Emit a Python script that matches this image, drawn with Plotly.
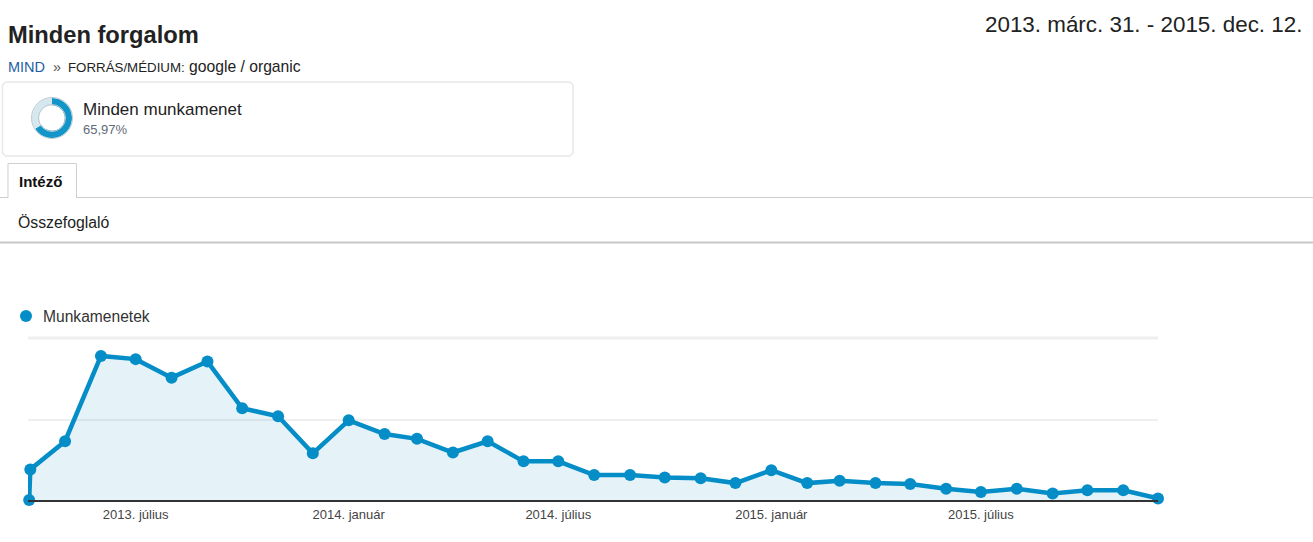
import plotly.graph_objects as go

W, H = 1313, 542
FONT = "Liberation Sans"

# Data (the reference has no y-axis labels, so the unit is relative)
dates = ["2013-03-31", "2013-04-01", "2013-05-01", "2013-06-01", "2013-07-01", "2013-08-01",
         "2013-09-01", "2013-10-01", "2013-11-01", "2013-12-01", "2014-01-01", "2014-02-01",
         "2014-03-01", "2014-04-01", "2014-05-01", "2014-06-01", "2014-07-01", "2014-08-01",
         "2014-09-01", "2014-10-01", "2014-11-01", "2014-12-01", "2015-01-01", "2015-02-01",
         "2015-03-01", "2015-04-01", "2015-05-01", "2015-06-01", "2015-07-01", "2015-08-01",
         "2015-09-01", "2015-10-01", "2015-11-01", "2015-12-01"]
sessions = [0, 38, 73, 179, 175, 152, 172, 114, 104, 58, 99, 82, 76, 59, 73, 48, 48, 31, 31, 28,
            27, 21, 37, 21, 24, 21, 20, 14, 10, 14, 8, 12, 12, 2]
tick_dates = ["2013-07-01", "2014-01-01", "2014-07-01", "2015-01-01", "2015-07-01"]
tick_labels = ["2013. július", "2014. január", "2014. július", "2015. január", "2015. július"]
grid_values = [0, 100]
donut_labels = ["Minden munkamenet", "Többi"]
donut_values = [65.97, 34.03]


def px(x):
    return x / W


def py(y):
    return 1 - y / H


fig = go.Figure()
fig.add_trace(go.Scatter(
    x=dates, y=sessions, name="Munkamenetek", mode="lines+markers",
    line=dict(color="#058dc7", width=4.5),
    marker=dict(color="#058dc7", size=12),
    fill="tozeroy", fillcolor="rgba(5,141,199,0.105)",
    cliponaxis=False, showlegend=False,
))
fig.add_trace(go.Pie(
    labels=donut_labels, values=donut_values, hole=0.64, sort=False,
    direction="clockwise", rotation=0, textinfo="none", showlegend=False,
    marker=dict(colors=["#1295c9", "#d6e8ef"], line=dict(width=0)),
    domain=dict(x=[px(32), px(72)], y=[py(138), py(98)]),
))


def text(x, y, s, size, color="#222222", anchor="left", bold=False):
    fig.add_annotation(
        x=px(x), y=py(y), xref="paper", yref="paper", text=f"<b>{s}</b>" if bold else s,
        showarrow=False, xanchor=anchor, yanchor="middle", borderpad=0,
        font=dict(family=FONT, size=size, color=color),
    )


text(7, 35, "Minden forgalom", 23.7, "#222222", bold=True)
text(1302.5, 24.5, "2013. márc. 31. - 2015. dec. 12.", 22.4, "#222222", anchor="right")
text(7, 66.5, "MIND", 14.5, "#1c5fa5")
text(52, 66.5, "»", 14.5, "#555555")
text(67, 67, "FORRÁS/MÉDIUM:", 13.3, "#222222")
text(188, 66.5, "google / organic", 15.7, "#222222")
text(82, 109, "Minden munkamenet", 17, "#222222")
text(82, 130, "65,97%", 13, "#5f6b78")
text(18, 181, "Intéző", 15, "#111111", bold=True)
text(17, 222, "Összefoglaló", 15.8, "#222222")
text(42, 316, "Munkamenetek", 15.6, "#333333")


def line(x0, y0, x1, y1, color, width):
    fig.add_shape(type="line", xref="paper", yref="paper",
                  x0=px(x0), y0=py(y0), x1=px(x1), y1=py(y1),
                  line=dict(color=color, width=width), layer="below")


def circle(x, y, r, fill, border, width):
    fig.add_shape(type="circle", xref="paper", yref="paper",
                  x0=px(x - r), x1=px(x + r), y0=py(y - r), y1=py(y + r),
                  fillcolor=fill, line=dict(color=border, width=width))


def path(points, color, width, fill="rgba(0,0,0,0)"):
    d = "M" + " L".join(f"{px(a):.5f},{py(b):.5f}" for a, b in points)
    fig.add_shape(type="path", xref="paper", yref="paper", path=d,
                  line=dict(color=color, width=width), fillcolor=fill)


# Selector card with slightly rounded corners
c0, c1, r0, r1 = 2.5, 573, 82, 156
path([(c0 + 3, r0), (c1 - 3, r0), (c1, r0 + 3), (c1, r1 - 3), (c1 - 3, r1),
      (c0 + 3, r1), (c0, r1 - 3), (c0, r0 + 3), (c0 + 3, r0)], "#e8e8e8", 1.5)
# Donut outlines
circle(52, 118, 20.5, "rgba(0,0,0,0)", "#bfc9ce", 1)
circle(52, 118, 13.5, "rgba(0,0,0,0)", "#bfc9ce", 1)
# Tab and rules
path([(8, 198), (8, 163.5), (76.5, 163.5), (76.5, 198)], "#cfcfcf", 1)
line(0, 197.5, 8, 197.5, "#cccccc", 1)
line(76.5, 197.5, W, 197.5, "#cccccc", 1)
line(0, 242.5, W, 242.5, "#c8c8c8", 2)
# Top chart rule, thicker than the middle gridline
line(28, 338, 1158, 338, "#efefef", 3)
# Legend dot
circle(26, 316, 6, "#058dc7", "#058dc7", 0)

fig.update_layout(
    width=W, height=H, margin=dict(l=0, r=0, t=0, b=0),
    paper_bgcolor="white", plot_bgcolor="white",
    font=dict(family=FONT),
    xaxis=dict(
        domain=[px(28), px(1158)], range=["2013-03-30", "2015-12-01"], type="date",
        tickvals=tick_dates, ticktext=tick_labels, tickangle=0, ticks="",
        tickfont=dict(family=FONT, size=13, color="#444444"),
        ticklabelstandoff=1,
        showgrid=False, zeroline=False, showline=True, linecolor="#333333", linewidth=2,
    ),
    yaxis=dict(
        domain=[py(500), py(339)], range=[0, 200], tickvals=grid_values,
        showticklabels=False, ticks="", showgrid=True, gridcolor="#efefef", gridwidth=2,
        zeroline=False, showline=False,
    ),
)

fig.write_html("out.html", config=dict(displayModeBar=False),
               post_script="document.body.style.margin='0';document.body.style.overflow='hidden';")
